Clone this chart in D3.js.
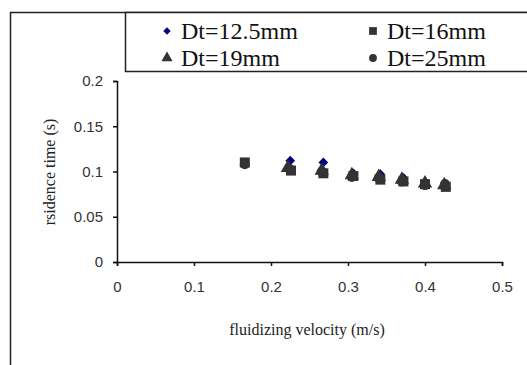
<!DOCTYPE html>
<html>
<head>
<meta charset="utf-8">
<script src="https://cdn.jsdelivr.net/npm/d3@7"></script>
<style>
  body { margin: 0; background: #fff; }
  svg { display: block; }
</style>
</head>
<body>
<script>
// data
const seriesNames = ["Dt=12.5mm", "Dt=16mm", "Dt=19mm", "Dt=25mm"];
const vel12 = [0.225, 0.268, 0.307, 0.342, 0.372, 0.400];
const time12 = [0.112, 0.110, 0.098, 0.097, 0.093, 0.088];
const vel16 = [0.166, 0.226, 0.268, 0.307, 0.342, 0.372, 0.400, 0.427];
const time16 = [0.110, 0.101, 0.098, 0.095, 0.091, 0.089, 0.086, 0.083];
const vel19 = [0.222, 0.266, 0.305, 0.340, 0.370, 0.400, 0.425];
const time19 = [0.104, 0.101, 0.096, 0.094, 0.091, 0.087, 0.085];
const vel25 = [0.166, 0.224, 0.266, 0.305, 0.340, 0.370, 0.400, 0.426];
const time25 = [0.108, 0.103, 0.100, 0.094, 0.093, 0.089, 0.085, 0.086];
const xTicks = [0, 0.1, 0.2, 0.3, 0.4, 0.5];
const yTicks = [0, 0.05, 0.1, 0.15, 0.2];

const w = 527, h = 365;
const x = d3.scaleLinear().domain([0, 0.5]).range([117, 502]);
const y = d3.scaleLinear().domain([0, 0.2]).range([262, 81]);

const svg = d3.select("body").append("svg")
  .attr("width", w)
  .attr("height", h);

// outer chart frame (runs past the picture edge)
svg.append("rect")
  .attr("x", 10.5).attr("y", 12.5)
  .attr("width", 540).attr("height", 380)
  .attr("fill", "none").attr("stroke", "#222").attr("stroke-width", 1.5);

// axes
const xAxis = svg.append("g")
  .attr("transform", `translate(0,${y(0)})`)
  .call(d3.axisBottom(x).tickValues(xTicks).tickSize(4).tickFormat(d => d));
const yAxis = svg.append("g")
  .attr("transform", `translate(${x(0)},0)`)
  .call(d3.axisLeft(y).tickValues(yTicks).tickSize(4).tickFormat(d => d));

[xAxis, yAxis].forEach(g => {
  g.select(".domain").attr("stroke", "#111").attr("stroke-width", 1.5);
  g.selectAll(".tick line").attr("stroke", "#111").attr("stroke-width", 1.5);
  g.selectAll(".tick text")
    .attr("fill", "#333")
    .style("font-family", "'Liberation Sans', Arial, sans-serif")
    .style("font-size", "15px");
});
xAxis.selectAll(".tick text").attr("dy", "1.5em");
yAxis.selectAll(".tick text").attr("x", -14);

// axis titles
svg.append("text")
  .attr("x", 307).attr("y", 335)
  .attr("text-anchor", "middle")
  .style("font-family", "'Liberation Serif', 'Times New Roman', serif")
  .style("font-size", "16px")
  .attr("fill", "#222")
  .text("fluidizing velocity (m/s)");

svg.append("text")
  .attr("transform", "translate(55,172) rotate(-90)")
  .attr("text-anchor", "middle")
  .style("font-family", "'Liberation Serif', 'Times New Roman', serif")
  .style("font-size", "16px")
  .attr("fill", "#222")
  .text("rsidence time (s)");

// markers
const series = [
  { name: seriesNames[0], xs: vel12, ys: time12, type: d3.symbolDiamond2, size: 60, color: "#000080" },
  { name: seriesNames[1], xs: vel16, ys: time16, type: d3.symbolSquare, size: 100, color: "#333333" },
  { name: seriesNames[2], xs: vel19, ys: time19, type: d3.symbolTriangle, size: 90, color: "#333333" },
  { name: seriesNames[3], xs: vel25, ys: time25, type: d3.symbolCircle, size: 80, color: "#333333" }
];

series.forEach(s => {
  svg.append("g").selectAll("path")
    .data(s.xs.map((v, i) => [v, s.ys[i]]))
    .join("path")
    .attr("transform", d => `translate(${x(d[0])},${y(d[1])})`)
    .attr("d", d3.symbol().type(s.type).size(s.size))
    .attr("fill", s.color);
});

// legend box
svg.append("rect")
  .attr("x", 125.5).attr("y", 12.5)
  .attr("width", 420).attr("height", 59)
  .attr("fill", "#fff").attr("stroke", "#222").attr("stroke-width", 1.5);

const legendPos = [[167, 31], [373, 31], [167, 58], [373, 58]];
series.forEach((s, i) => {
  const [lx, ly] = legendPos[i];
  svg.append("path")
    .attr("transform", `translate(${lx},${ly})`)
    .attr("d", d3.symbol().type(s.type).size(s.size * 0.6))
    .attr("fill", s.color);
  svg.append("text")
    .attr("x", lx + 14).attr("y", ly + 8)
    .style("font-family", "'Liberation Serif', 'Times New Roman', serif")
    .style("font-size", "24px")
    .attr("fill", "#111")
    .text(s.name);
});
</script>
</body>
</html>
